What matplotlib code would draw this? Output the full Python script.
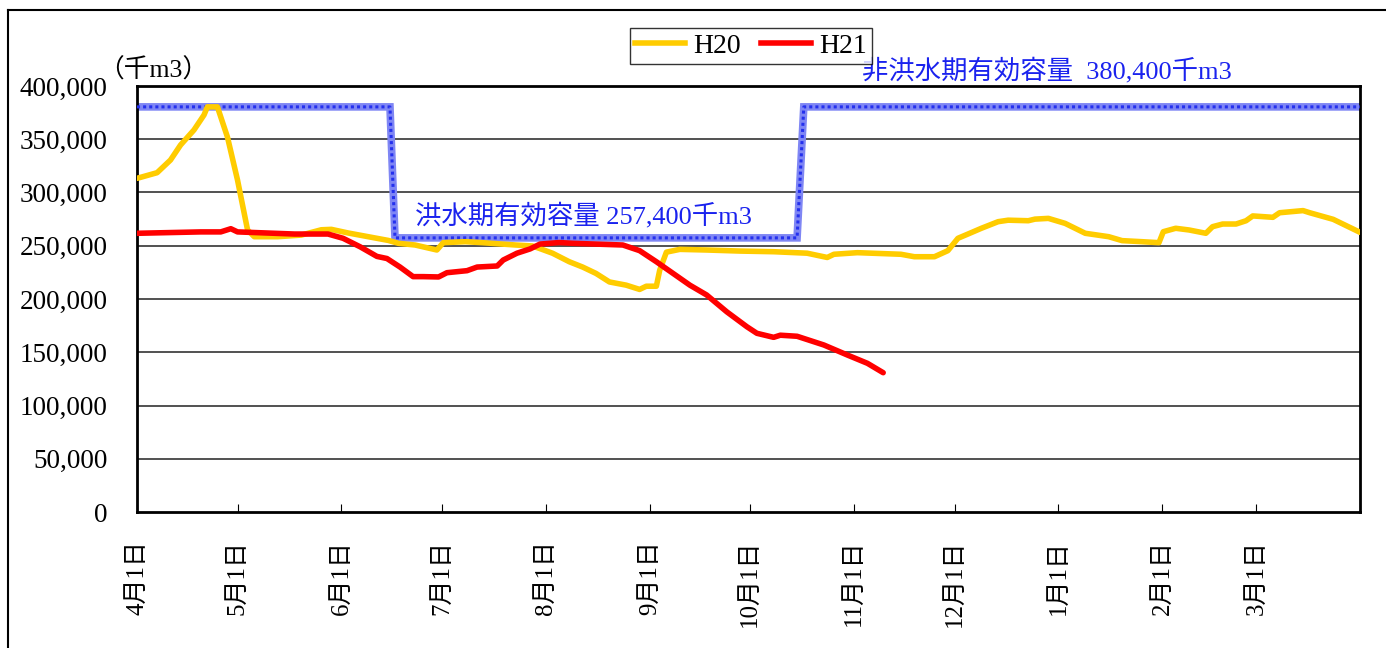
import matplotlib
matplotlib.use("Agg")
import matplotlib.pyplot as plt
from matplotlib.lines import Line2D
from matplotlib.ticker import FuncFormatter

plt.rcParams['font.family'] = ['Liberation Serif', 'Noto Sans CJK JP']

# days counted from April 1
h20_days = [0, 6, 10, 13, 17, 20, 21, 24, 27, 30, 33, 35, 42, 49, 55, 58, 63, 69, 75, 78, 83,
            89.5, 91.4, 98, 103, 113, 118, 120, 124, 129, 133, 137, 141, 146, 150, 152, 155,
            156, 158, 162, 170, 180, 190, 200, 206, 208, 215, 228, 232, 238, 242, 245, 248,
            252, 257, 260, 266, 268, 272, 277, 283, 290, 294, 300, 305, 306.3, 310, 314, 319,
            321, 324, 328, 331, 333, 339, 341, 348, 350, 357, 365]
h20_vals = [313300, 318600, 330500, 344600, 358700, 372800, 380400, 380400, 352000, 311700,
            264800, 258500, 258500, 260000, 265000, 265400, 262000, 258500, 255000, 252300,
            250700, 246000, 252900, 253800, 252900, 250700, 249800, 247600, 243000, 235000,
            230000, 224000, 216000, 213000, 209000, 212000, 212000, 227000, 244000, 246600,
            246000, 245000, 244400, 243000, 239000, 242000, 243500, 242000, 239700, 239700,
            245400, 257000, 261000, 266400, 272600, 274000, 273500, 275000, 275700, 271000,
            261700, 258500, 254800, 253800, 252900, 263200, 266400, 264800, 261700, 267900,
            270400, 270400, 273500, 278000, 276700, 281000, 283000, 281000, 274800, 262600]

h21_days = [0, 19, 25, 28, 30, 47, 57, 61.5, 66.6, 71.6, 74.6, 78.5, 82.4, 85.4, 90, 92.5,
            98.5, 101.5, 107.5, 109.3, 113.4, 117.3, 120.3, 126, 130, 145, 150, 155, 165, 170,
            176, 182, 185, 190, 192, 197, 205, 212, 218, 222.7]
h21_vals = [261700, 263000, 263000, 266000, 263000, 261000, 261000, 257000, 249000, 240000,
            238000, 230000, 221000, 221000, 220700, 224700, 226600, 230000, 231000, 236600,
            243000, 247000, 251600, 253000, 252300, 250700, 245400, 235000, 213000, 203800,
            188000, 174000, 167800, 164000, 166000, 165000, 156800, 147400, 139600, 130800]

cap_days = [0, 75.5, 77, 197, 199, 365]
cap_vals = [380400, 380400, 257400, 257400, 380400, 380400]

month_days = [0, 30, 61, 91, 122, 153, 183, 214, 244, 275, 306, 334]
month_labels = ['4月1日', '5月1日', '6月1日', '7月1日', '8月1日', '9月1日', '10月1日',
                '11月1日', '12月1日', '1月1日', '2月1日', '3月1日']

fig = plt.figure(figsize=(13.86, 6.48), dpi=100)
ax = fig.add_axes([137 / 1386, 1 - 512 / 648, (1360 - 137) / 1386, (512 - 86) / 648])

for v in range(50000, 400001, 50000):
    ax.axhline(v, color='#222222', lw=1.1, zorder=1)

ax.plot(cap_days, cap_vals, color='#7f86f4', lw=5.5, zorder=2, solid_joinstyle='miter')
ax.plot(cap_days, cap_vals, color='#2430ee', lw=2.2, ls=(0, (1, 1)), zorder=3)
ax.plot(h20_days, h20_vals, color='#ffcc00', lw=4, zorder=4, solid_capstyle='round')
ax.plot(h21_days, h21_vals, color='#ff0000', lw=4, zorder=5, solid_capstyle='round')

ax.set_xlim(0, 365)
ax.set_ylim(0, 400000)
ax.set_yticks(range(0, 400001, 50000))
ax.yaxis.set_major_formatter(FuncFormatter(lambda v, p: f'{int(v):,}'))
ax.set_xticks(month_days)
ax.set_xticklabels(month_labels, rotation=90, fontsize=18)
ax.tick_params(axis='x', direction='in', length=6, pad=20)
ax.tick_params(axis='y', direction='in', length=0, labelsize=19.5, pad=21)
for s in ax.spines.values():
    s.set_linewidth(2)
    s.set_color('black')

ax.text(83, 271000, '洪水期有効容量 257,400千m3', color='#1a22ee', fontsize=19)
fig.text(862 / 1386, 1 - 78 / 648, '非洪水期有効容量  380,400千m3', color='#1a22ee', fontsize=19)
fig.text(98 / 1386, 1 - 78 / 648, '（千m3）', fontsize=18.5)

handles = [Line2D([], [], color='#ffcc00', lw=4), Line2D([], [], color='#ff0000', lw=4)]
leg = fig.legend(handles, ['H20', 'H21'], loc='center', bbox_to_anchor=(751 / 1386, 1 - 46 / 648),
                 ncol=2, fontsize=20, frameon=True, fancybox=False, edgecolor='black',
                 handlelength=1.8, columnspacing=0.7, handletextpad=0.3, borderpad=0.2,
                 borderaxespad=0)
leg.get_frame().set_linewidth(1)

# outer frame
fig.add_artist(Line2D([8 / 1386, 8 / 1386], [0, 1 - 10 / 648], color='black', lw=1.5))
fig.add_artist(Line2D([8 / 1386, 1], [1 - 10 / 648, 1 - 10 / 648], color='black', lw=1.5))

fig.savefig('out.png', dpi=100)
